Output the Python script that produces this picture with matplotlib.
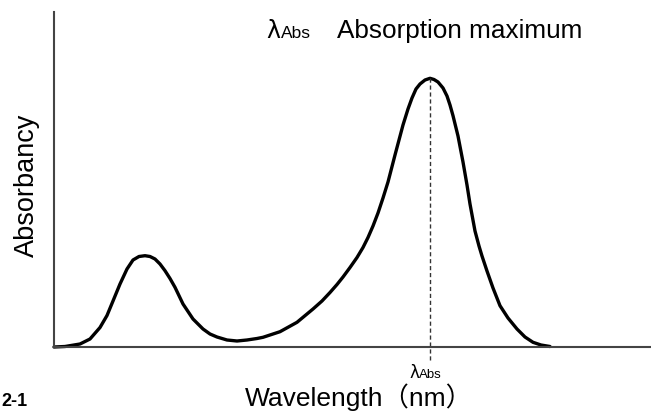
import matplotlib
matplotlib.use("Agg")
import matplotlib.pyplot as plt

# (wavelength and absorbance in arbitrary units)
wavelength = [54, 65, 80, 90, 100, 107, 113, 120, 127, 133, 139, 145, 150, 155, 160, 165,
              170, 175, 183, 193, 203, 210, 217, 227, 237, 247, 257, 263, 280, 297, 313,
              322, 330, 337, 343, 350, 357, 363, 368, 373, 378, 383, 388, 395, 403, 408,
              412, 416, 420, 425, 430, 434, 438, 443, 447, 450, 453, 458, 463, 467, 470,
              475, 479, 482, 487, 493, 500, 508, 517, 525, 533, 541, 550]
absorbance = [0, 0.5, 3, 8, 19.5, 31.5, 46, 63, 78, 87, 90.5, 91.3, 90.5, 88, 83, 76.3,
              68.5, 59.7, 43, 28, 18, 13, 10, 7, 6, 7, 8.5, 9.7, 15.3, 24.7, 38,
              46, 54.5, 62.5, 70, 79.5, 89.5, 99.5, 109.5, 121, 134, 149, 165, 192, 222, 238,
              249, 258, 263, 267, 268.7, 267.5, 265, 259, 251, 242, 231.3, 211, 185, 162, 143,
              116, 101, 91, 76, 59, 41.3, 29, 18, 10, 4.7, 2, 0.5]
peak_wavelength = 430
peak_label = "λ"
peak_sub = "Abs"
title_text = "Absorption maximum"
xlabel_text = "Wavelength（nm）"
ylabel_text = "Absorbancy"
fig_label = "2-1"

fonts = ["Liberation Sans", "Noto Sans CJK JP", "DejaVu Sans"]
plt.rcParams["font.family"] = fonts

fig = plt.figure(figsize=(6.51, 4.14), dpi=100)
W, H = 651, 414
ax = fig.add_axes([54 / W, (H - 348) / H, (651 - 54) / W, (348 - 13) / H])
ax.set_xlim(54, 651)
ax.set_ylim(0, 335)

ax.plot(wavelength, absorbance, color="black", lw=2.4, solid_joinstyle="round",
        solid_capstyle="round", clip_on=False)
pk = absorbance[wavelength.index(peak_wavelength)]
ax.plot([peak_wavelength, peak_wavelength], [-13, pk], color="#333333", lw=1.0,
        ls=(0, (3, 2)), clip_on=False)

for s in ["top", "right"]:
    ax.spines[s].set_visible(False)
for s in ["left", "bottom"]:
    ax.spines[s].set_color("#444444")
    ax.spines[s].set_linewidth(1.5)
ax.set_xticks([])
ax.set_yticks([])

def Y(py):
    return 1 - py / H

lam_font = ["DejaVu Sans"]

# peak label under axis
fig.text(409 / W, Y(378), peak_label, fontsize=12, ha="left", va="baseline", family=lam_font)
fig.text(419 / W, Y(378), peak_sub, fontsize=9.5, ha="left", va="baseline")

# title-like legend
fig.text(266 / W, Y(38), peak_label, fontsize=17, ha="left", va="baseline", family=lam_font)
fig.text(281 / W, Y(38), peak_sub, fontsize=12.5, ha="left", va="baseline")
fig.text(337 / W, Y(38), title_text, fontsize=18.8, ha="left", va="baseline")

fig.text(245 / W, Y(406), xlabel_text, fontsize=19, ha="left", va="baseline")
fig.text(27 / W, Y(185), ylabel_text, fontsize=19.5, ha="center", va="center", rotation=90)
fig.text(1 / W, Y(406), fig_label, fontsize=13, ha="left", va="baseline", weight="bold")

fig.savefig("out.png", dpi=100)
